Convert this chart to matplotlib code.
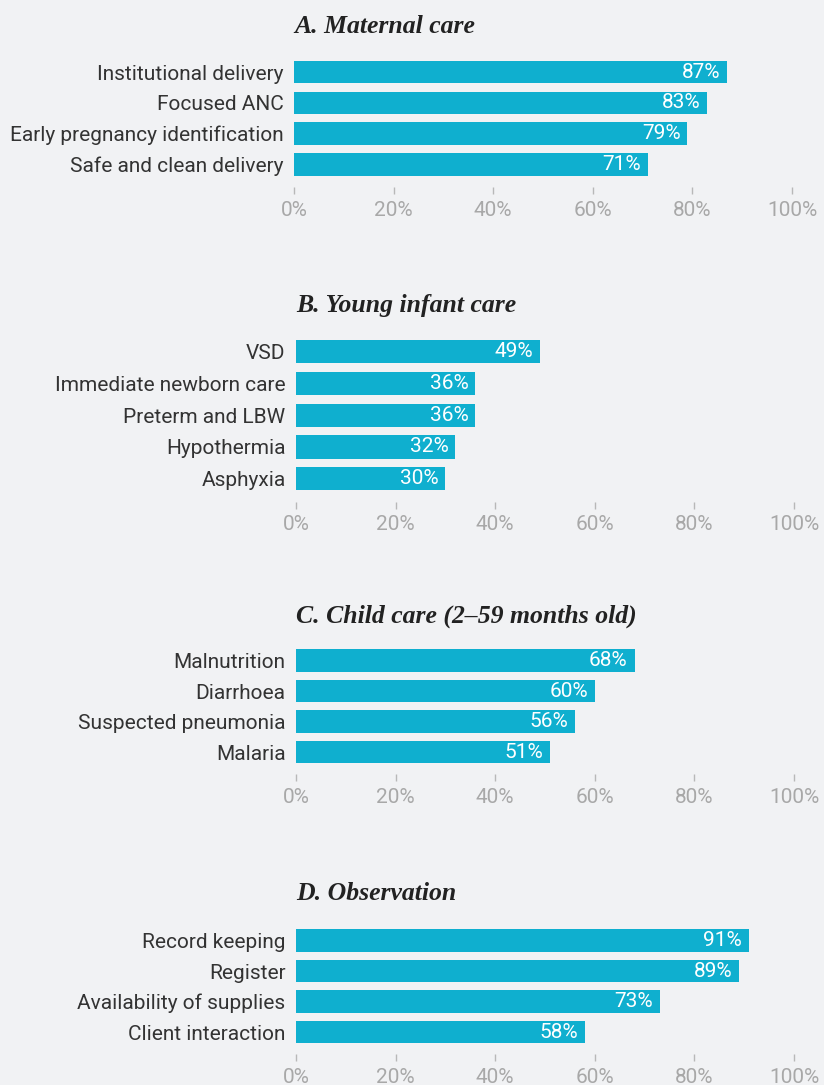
import matplotlib.pyplot as plt

plt.rcParams['font.family'] = ['Roboto', 'DejaVu Sans']

titles = ["A. Maternal care", "B. Young infant care",
          "C. Child care (2\u201359 months old)", "D. Observation"]

maternal_labels = ["Institutional delivery", "Focused ANC",
                   "Early pregnancy identification", "Safe and clean delivery"]
maternal_values = [87, 83, 79, 71]

infant_labels = ["VSD", "Immediate newborn care", "Preterm and LBW",
                 "Hypothermia", "Asphyxia"]
infant_values = [49, 36, 36, 32, 30]

child_labels = ["Malnutrition", "Diarrhoea", "Suspected pneumonia", "Malaria"]
child_values = [68, 60, 56, 51]

obs_labels = ["Record keeping", "Register", "Availability of supplies",
              "Client interaction"]
obs_values = [91, 89, 73, 58]

xticks = [0, 20, 40, 60, 80, 100]

bg = "#f1f2f4"
bar_color = "#0fafcf"
W, H = 824, 1085

fig = plt.figure(figsize=(W / 100, H / 100), dpi=100, facecolor=bg)

# (left, top, bottom, title baseline) in pixels
boxes = [(294, 56.8, 179.7, 33.3),
         (296, 335.8, 494.6, 312.3),
         (296, 645.3, 767.3, 622.3),
         (296, 925.3, 1047.3, 900.0)]
panels = [(maternal_labels, maternal_values), (infant_labels, infant_values),
          (child_labels, child_values), (obs_labels, obs_values)]

for (left, top, bottom, tb), (labels, values), title in zip(boxes, panels, titles):
    ax = fig.add_axes([left / W, 1 - bottom / H, 498 / W, (bottom - top) / H])
    ax.set_facecolor(bg)
    for s in ["top", "right", "left", "bottom"]:
        ax.spines[s].set_visible(False)
    ax.spines["bottom"].set_position(("outward", 5))

    n = len(labels)
    y = list(range(n))
    ax.barh(y, values, height=0.73, color=bar_color)
    for yi, v in zip(y, values):
        ax.annotate(f"{v}%", (v, yi), xytext=(-5, 0), textcoords="offset points",
                    ha="right", va="center", color="white", fontsize=15)
    ax.set_xlim(0, 100)
    ax.set_ylim(n - 0.5, -0.5)
    ax.set_yticks(y)
    ax.set_yticklabels(labels)
    ax.tick_params(axis="y", length=0, pad=7.5, labelsize=15, labelcolor="#333333")
    ax.set_xticks(xticks)
    ax.set_xticklabels([f"{t}%" for t in xticks])
    ax.tick_params(axis="x", length=5, width=1, color="#b8b8b8", pad=5,
                   labelsize=15, labelcolor="#a8a8a8")
    fig.text(left / W, 1 - tb / H, title, ha="left", va="baseline",
             fontsize=18.5, fontweight="bold", fontstyle="italic",
             family="Liberation Serif", color="#222222")

fig.savefig("out.png", dpi=100, facecolor=bg)
